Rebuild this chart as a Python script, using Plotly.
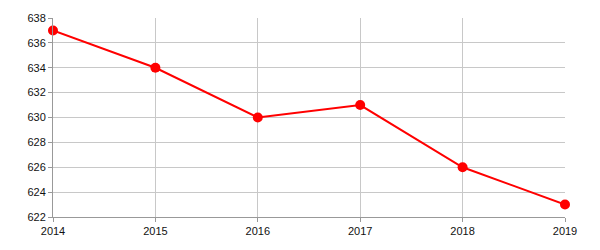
import plotly.graph_objects as go

years = [2014, 2015, 2016, 2017, 2018, 2019]
values = [637, 634, 630, 631, 626, 623]
y_ticks = [622, 624, 626, 628, 630, 632, 634, 636, 638]

fig = go.Figure(go.Scatter(
    x=years, y=values, mode="lines+markers",
    line=dict(color="#ff0000", width=2),
    marker=dict(color="#ff0000", size=10),
    cliponaxis=False,
))
axis_common = dict(
    showgrid=True, gridcolor="#c8c8c8", gridwidth=1,
    showline=True, linecolor="#999999", linewidth=1,
    ticks="outside", ticklen=4, tickcolor="#999999",
    tickfont=dict(family="Liberation Sans, Arial", size=11, color="#111111"),
    zeroline=False,
)
fig.update_xaxes(range=[2014, 2019], tickvals=years, ticktext=[str(y) for y in years], **axis_common)
fig.update_yaxes(range=[622, 638], tickvals=y_ticks, **axis_common)
fig.update_layout(
    width=600, height=250,
    margin=dict(l=53, r=35, t=15, b=33),
    plot_bgcolor="white", paper_bgcolor="white",
    showlegend=False,
)
fig.write_html("out.html")
